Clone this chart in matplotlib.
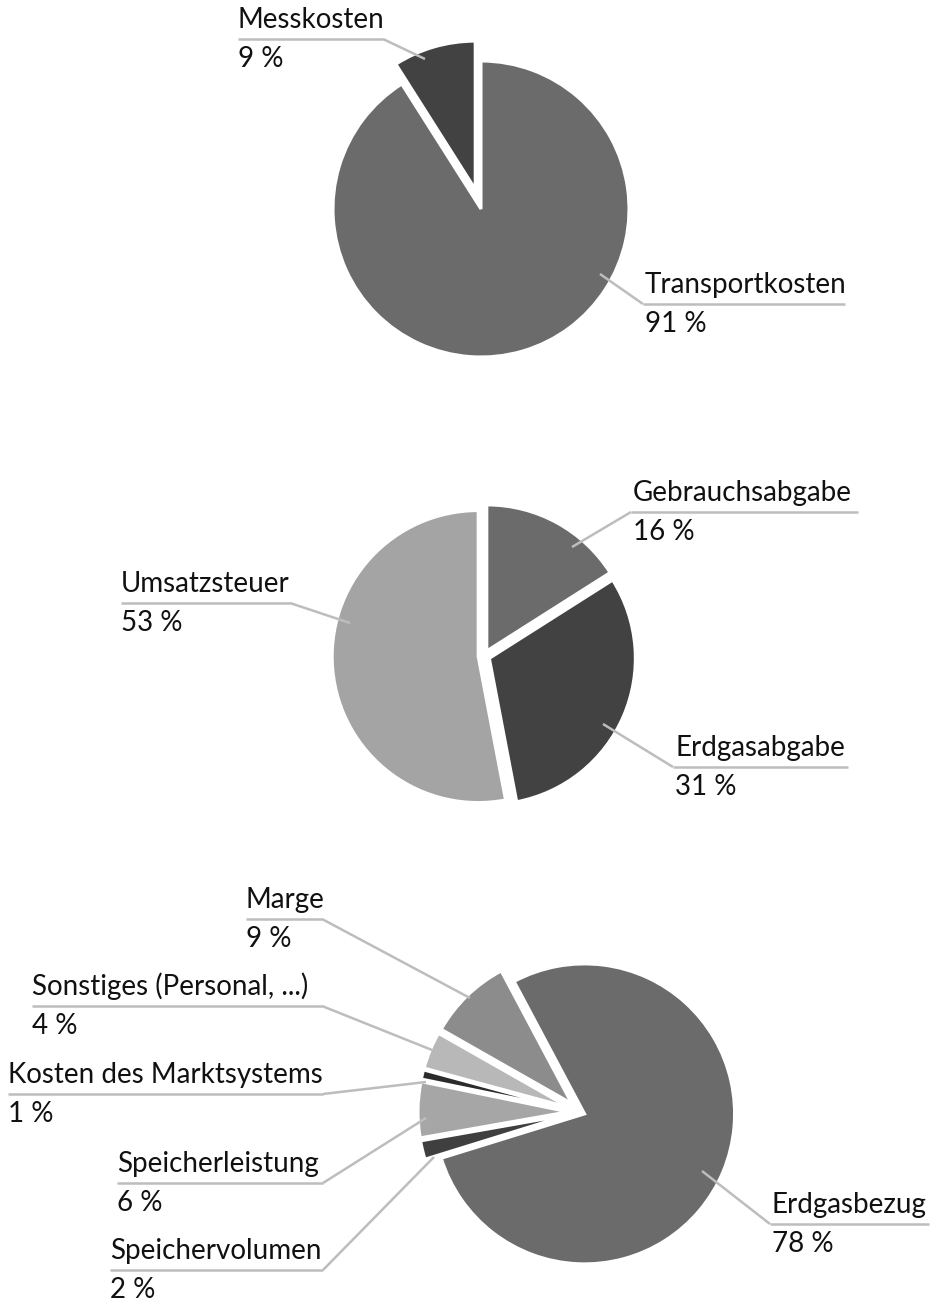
import matplotlib.pyplot as plt

W, H = 939, 1301

# --- data -------------------------------------------------------------
netz_labels = ["Transportkosten", "Messkosten"]
netz_values = [91, 9]

steuer_labels = ["Gebrauchsabgabe", "Erdgasabgabe", "Umsatzsteuer"]
steuer_values = [16, 31, 53]

energie_labels = ["Erdgasbezug", "Speichervolumen", "Speicherleistung",
                  "Kosten des Marktsystems", "Sonstiges (Personal, ...)", "Marge"]
energie_values = [78, 2, 6, 1, 4, 9]

# --- styling / layout (pixel coords, y from top) -----------------------
netz_colors = ["#6b6b6b", "#424242"]
steuer_colors = ["#6b6b6b", "#424242", "#a4a4a4"]
energie_colors = ["#6b6b6b", "#3f3f3f", "#a6a6a6", "#2b2b2b", "#b8b8b8", "#8c8c8c"]

# anchor in slice, underline x0, x1, y, side of the elbow
netz_layout = [((600, 274), 643, 845, 304, "right"),
               ((425, 59), 238, 383, 39, "left")]
steuer_layout = [((572, 547), 631, 858, 512, "right"),
                 ((603, 724), 673, 848, 767, "right"),
                 ((350, 623), 121, 290, 603, "left")]
energie_layout = [((702, 1171), 770, 929, 1224, "right"),
                  ((434, 1157), 110, 323, 1270, "left"),
                  ((426, 1118), 117, 323, 1183, "left"),
                  ((426, 1082), 8, 323, 1094, "left"),
                  ((432, 1050), 32, 322, 1006, "left"),
                  ((470, 998), 246, 322, 919, "left")]

LINE_COLOR = "#bdbdbd"
FONT = "Lato"
FS = 20


def up(y):
    return H - y


def draw_pie(ax, values, colors, center, radius, start, explode):
    # pie's explode is in data units, so scale the fractions by the radius
    ax.pie(values, colors=colors, startangle=start, counterclock=False,
           explode=[e * radius for e in explode],
           center=(center[0], up(center[1])), radius=radius,
           wedgeprops=dict(edgecolor="white", linewidth=2.2))


def draw_labels(ax, labels, values, layout):
    for name, val, (anchor, x0, x1, y, side) in zip(labels, values, layout):
        elbow = (x0, y) if side == "right" else (x1, y)
        ax.plot([anchor[0], elbow[0]], [up(anchor[1]), up(elbow[1])],
                color=LINE_COLOR, lw=1.8, solid_capstyle="butt")
        ax.plot([x0, x1], [up(y), up(y)], color=LINE_COLOR, lw=1.8,
                solid_capstyle="butt")
        tx = x0 + 2 if side == "right" else x0
        ax.text(tx, up(y - 11), name, fontsize=FS, family=FONT,
                color="#111111", ha="left", va="baseline")
        ax.text(tx, up(y + 28), f"{val} %", fontsize=FS, family=FONT,
                color="#111111", ha="left", va="baseline")


fig = plt.figure(figsize=(W / 100, H / 100), dpi=100)
ax = fig.add_axes([0, 0, 1, 1])

draw_pie(ax, netz_values, netz_colors, (481, 209), 148, 90, [0, 0.14])
draw_pie(ax, steuer_values, steuer_colors, (484, 656), 146, 90, [0.04, 0.04, 0.04])
draw_pie(ax, energie_values, energie_colors, (580, 1112), 150, 118,
         [0.033, 0.08, 0.08, 0.08, 0.08, 0.08])

draw_labels(ax, netz_labels, netz_values, netz_layout)
draw_labels(ax, steuer_labels, steuer_values, steuer_layout)
draw_labels(ax, energie_labels, energie_values, energie_layout)

ax.set_xlim(0, W)
ax.set_ylim(0, H)
ax.set_aspect("equal")
ax.axis("off")

fig.savefig("out.png", dpi=100, facecolor="white")
